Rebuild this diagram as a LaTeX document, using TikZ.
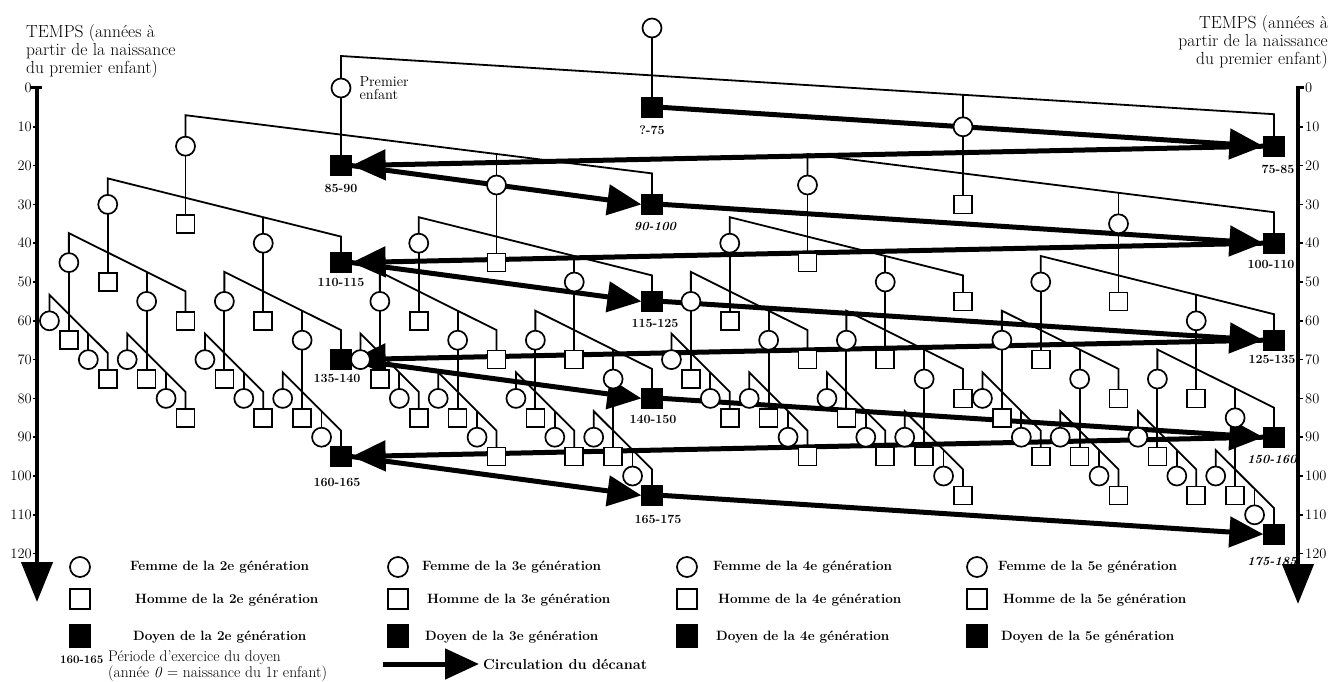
\documentclass[tikz,border=0pt]{standalone}
\usetikzlibrary{arrows.meta}
\pgfdeclarelayer{paper}
\pgfdeclarelayer{bg}
\pgfdeclarelayer{mid}
\pgfsetlayers{paper,bg,mid,main}
\newcommand\mysib[2]{%
  \draw[kin] (#11.center) -- ([yshift=#2pt]#11.center) -- ([yshift=#2pt]#14.center) -- (#14.center);
  \draw[kin] (#1.center) -- (#12.center);
  \draw[kin] (#13.center) -- ([yshift=#2pt]#13.center);}
\begin{document}
\begin{tikzpicture}[x=1pt,y=-1pt,
  pbase/.style={draw,line width=1.7pt,inner sep=0pt,fill=white},
  fem/.style={pbase,circle,minimum size=19pt},
  hom/.style={pbase,rectangle,minimum size=18pt},
  doy/.style={pbase,rectangle,fill=black,minimum size=19.5pt},
  lfem/.style={pbase,circle,minimum size=20pt},
  lhom/.style={pbase,rectangle,minimum size=19.5pt},
  ldoy/.style={pbase,rectangle,fill=black,minimum width=20pt,minimum height=22pt},
  g1/.style={fem},
  g0/.style={hom},
  dyr2/.style={doy},dyr4/.style={doy},dyr12/.style={doy},dyr14/.style={doy},
  dyr34/.style={doy},dyr114/.style={doy},dyr134/.style={doy},dyr334/.style={doy},
  dyr1134/.style={doy},dyr1334/.style={doy},dyr3334/.style={doy},
  dyr11334/.style={doy},dyr13334/.style={doy},dyr33334/.style={doy},
  kin/.style={line width=1.8pt},
  flow/.style={line width=5pt,-{Triangle[length=34pt,width=30pt]}},
  axisline/.style={line width=4.5pt,-{Triangle[length=40pt,width=31pt]}},
  dlab/.style={font=\fontsize{12.5}{13}\selectfont\bfseries,inner sep=0pt,anchor=north},
  dlabi/.style={font=\fontsize{12.5}{13}\selectfont\bfseries\itshape,inner sep=0pt,anchor=north},
  axl/.style={font=\fontsize{14.5}{15}\selectfont,inner sep=0pt},
  legt/.style={font=\fontsize{13.5}{14}\selectfont\bfseries,inner sep=0pt,anchor=west},
  tempst/.style={font=\fontsize{17.5}{18}\selectfont,inner sep=0pt}
]
\useasboundingbox (0,0) rectangle (1335,682);
\begin{pgfonlayer}{paper}
\fill[white] (0,0) rectangle (1335,682);
\end{pgfonlayer}

% ---------- people ----------
\node[fem] (r) at (652,28) {};
\foreach \qa in {1,...,4}{%
  \pgfmathsetmacro\px{652+(\qa-2)*311}%
  \pgfmathsetmacro\py{88+3.88*(5*\qa-5)}%
  \pgfmathtruncatemacro\od{mod(\qa,2)}%
  \node[g\od,dyr\qa/.try] (r\qa) at (\px,\py) {};}
\foreach \qa in {1,3}{\foreach \qb in {1,...,4}{%
  \pgfmathsetmacro\px{652+(\qa-2)*311+(\qb-2)*155.5}%
  \pgfmathsetmacro\py{88+3.88*(5+5*\qa+5*\qb)}%
  \pgfmathtruncatemacro\od{mod(\qb,2)}%
  \node[g\od,dyr\qa\qb/.try] (r\qa\qb) at (\px,\py) {};}}
\foreach \qa in {1,3}{\foreach \qb in {1,3}{\foreach \qc in {1,...,4}{%
  \pgfmathsetmacro\px{652+(\qa-2)*311+(\qb-2)*155.5+(\qc-2)*77.75}%
  \pgfmathsetmacro\py{88+3.88*(15+5*\qa+5*\qb+5*\qc)}%
  \pgfmathtruncatemacro\od{mod(\qc,2)}%
  \node[g\od,dyr\qa\qb\qc/.try] (r\qa\qb\qc) at (\px,\py) {};}}}
\foreach \qa in {1,3}{\foreach \qb in {1,3}{\foreach \qc in {1,3}{\foreach \qd in {1,...,4}{%
  \pgfmathsetmacro\px{652+(\qa-2)*311+(\qb-2)*155.5+(\qc-2)*77.75+(\qd-2)*38.875}%
  \pgfmathsetmacro\py{88+3.88*(25+5*\qa+5*\qb+5*\qc+5*\qd)}%
  \pgfmathtruncatemacro\od{mod(\qd,2)}%
  \node[g\od,dyr\qa\qb\qc\qd/.try] (r\qa\qb\qc\qd) at (\px,\py) {};}}}}
\foreach \qa in {1,3}{\foreach \qb in {1,3}{\foreach \qc in {1,3}{\foreach \qd in {1,3}{\foreach \qe in {1,...,4}{%
  \pgfmathsetmacro\px{652+(\qa-2)*311+(\qb-2)*155.5+(\qc-2)*77.75+(\qd-2)*38.875+(\qe-2)*19.4375}%
  \pgfmathsetmacro\py{88+3.88*(35+5*\qa+5*\qb+5*\qc+5*\qd+5*\qe)}%
  \pgfmathtruncatemacro\od{mod(\qe,2)}%
  \node[g\od,dyr\qa\qb\qc\qd\qe/.try] (r\qa\qb\qc\qd\qe) at (\px,\py) {};}}}}}

% ---------- sibling lines ----------
\begin{pgfonlayer}{bg}
\mysib{r}{32}
\foreach \qa in {1,3}{\mysib{r\qa}{31}}
\foreach \qa in {1,3}{\foreach \qb in {1,3}{\mysib{r\qa\qb}{26}}}
\foreach \qa in {1,3}{\foreach \qb in {1,3}{\foreach \qc in {1,3}{\mysib{r\qa\qb\qc}{29.5}}}}
\foreach \qa in {1,3}{\foreach \qb in {1,3}{\foreach \qc in {1,3}{\foreach \qd in {1,3}{\mysib{r\qa\qb\qc\qd}{26}}}}}
\end{pgfonlayer}

% ---------- circulation of the deanship ----------
\begin{pgfonlayer}{mid}
\draw[flow] (r2.east) -- (r4.west);
\draw[flow] (r4.west) -- (r12.east);
\draw[flow] (r12.east) -- (r14.west);
\draw[flow] (r14.east) -- (r34.west);
\draw[flow] (r34.west) -- (r114.east);
\draw[flow] (r114.east) -- (r134.west);
\draw[flow] (r134.east) -- (r334.west);
\draw[flow] (r334.west) -- (r1134.east);
\draw[flow] (r1134.east) -- (r1334.west);
\draw[flow] (r1334.east) -- (r3334.west);
\draw[flow] (r3334.west) -- (r11334.east);
\draw[flow] (r11334.east) -- (r13334.west);
\draw[flow] (r13334.east) -- (r33334.west);
\end{pgfonlayer}

% ---------- period labels ----------
\node[dlab] (t2) at ([yshift=-8pt]r2.south) {?-75};
\node[dlab] (t4) at ([xshift=4pt,yshift=-8pt]r4.south) {75-85};
\node[dlab] (t12) at ([yshift=-8pt]r12.south) {85-90};
\node[dlabi] (t14) at ([xshift=3pt,yshift=-7pt]r14.south) {90-100};
\node[dlab] (t34) at ([xshift=-3pt,yshift=-6pt]r34.south) {100-110};
\node[dlab] (t114) at ([yshift=-5pt]r114.south) {110-115};
\node[dlab] (t134) at ([xshift=3pt,yshift=-7pt]r134.south) {115-125};
\node[dlab] (t334) at ([xshift=-2pt,yshift=-4pt]r334.south) {125-135};
\node[dlab] (t1134) at ([xshift=-4pt,yshift=-4pt]r1134.south) {135-140};
\node[dlab] (t1334) at ([xshift=1pt,yshift=-6pt]r1334.south) {140-150};
\node[dlabi] (t3334) at ([xshift=-2pt,yshift=-7pt]r3334.south) {150-160};
\node[dlab] (t11334) at ([xshift=-4pt,yshift=-11pt]r11334.south) {160-165};
\node[dlab] (t13334) at ([xshift=6pt,yshift=-9pt]r13334.south) {165-175};
\node[dlabi] (t33334) at ([xshift=-2pt,yshift=-12pt]r33334.south) {175-185};

\node[font=\fontsize{14.5}{13}\selectfont,inner sep=0pt,anchor=west,align=left] (pe) at ([xshift=8pt]r1.east) {Premier\\enfant};

% ---------- time axes ----------
\node[tempst,anchor=north west,align=left] (tl) at (26,24) {TEMPS (années à\\partir de la naissance\\du premier enfant)};
\node[tempst,anchor=north east,align=right] (tr) at (1328,15) {TEMPS (années à\\partir de la naissance\\du premier enfant)};
\coordinate (la0) at (37,86);
\coordinate (la1) at (37,602);
\draw[axisline] (la0) -- (la1);
\coordinate (ra0) at (1298,86);
\coordinate (ra1) at (1298,604);
\draw[axisline] (ra0) -- (ra1);
\draw[line width=3pt] (31,87.5) -- (42,87.5);
\draw[line width=3pt] (1296,87.5) -- (1304,87.5);
\foreach \tv in {0,10,...,120}{%
  \pgfmathsetmacro\py{88+3.88*\tv}%
  \node[axl,anchor=east] (ll\tv) at (32,\py) {\tv};
  \node[axl,anchor=west] (rl\tv) at (1305,\py) {\tv};
  \draw[line width=1.5pt] (33,\py) -- (37,\py);
  \draw[line width=1.5pt] (1298,\py) -- (1303,\py);
}

% ---------- legend ----------
\foreach \gx/\tx/\gn in {80/130/2,398/422/3,687/713/4,977/998/5}{%
  \node[lfem] (lf\gn) at (\gx,567) {};
  \node[lhom] (lh\gn) at (\gx,599) {};
  \node[ldoy] (ld\gn) at (\gx,636) {};
  \node[legt] (tf\gn) at (\tx,567) {Femme de la \gn e génération};
  \node[legt] (th\gn) at (\tx+5,600) {Homme de la \gn e génération};
  \node[legt] (td\gn) at (\tx+3,637) {Doyen de la \gn e génération};
}
\node[font=\fontsize{11.5}{12}\selectfont\bfseries,inner sep=0pt,anchor=west] (p1) at (60,660) {160-165};
\node[font=\fontsize{15.5}{13}\selectfont,inner sep=0pt,anchor=west,align=left] (p2) at (108,666) {Période d'exercice du doyen\\(année \textit{0} = naissance du 1r enfant)};
\coordinate (a0) at (383,664);
\coordinate (a1) at (479,664);
\draw[flow] (a0) -- (a1);
\node[font=\fontsize{14.5}{15}\selectfont\bfseries,inner sep=0pt,anchor=west] (ct) at (483,664) {Circulation du décanat};
\end{tikzpicture}
\end{document}
